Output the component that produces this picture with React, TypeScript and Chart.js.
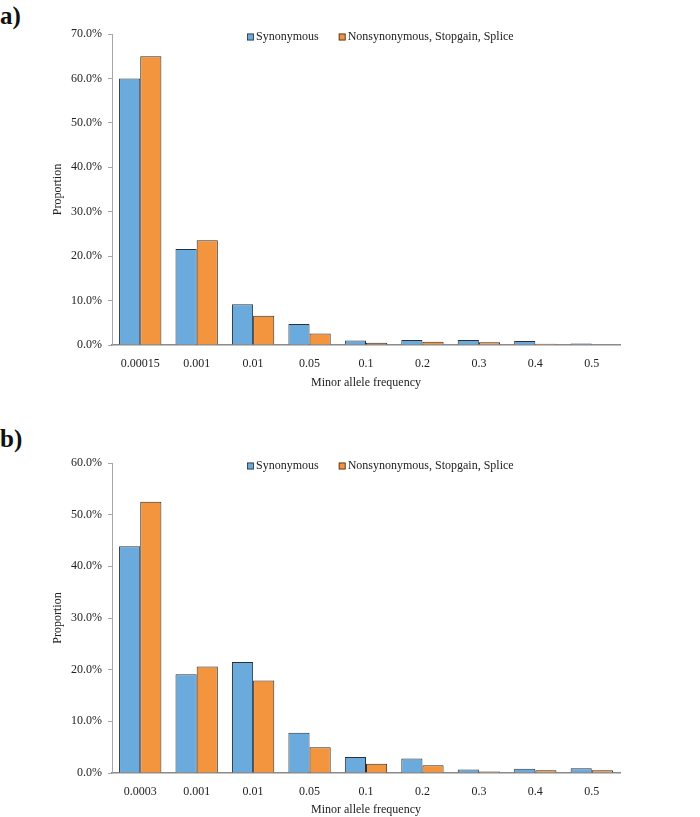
import React, { useEffect, useRef } from "react";
import { Chart, registerables } from "chart.js";

Chart.register(...registerables);

const seriesNames = ["Synonymous", "Nonsynonymous, Stopgain, Splice"];
const seriesColors = ["#6aaadc", "#f3943f"];

const labelsA = ["0.00015", "0.001", "0.01", "0.05", "0.1", "0.2", "0.3", "0.4", "0.5"];
const synonymousA = [60.0, 21.6, 9.2, 4.7, 1.0, 1.1, 1.1, 0.9, 0.35];
const nonsynonymousA = [65.0, 23.6, 6.6, 2.6, 0.5, 0.75, 0.6, 0.3, 0.1];
const yMaxA = 70;

const labelsB = ["0.0003", "0.001", "0.01", "0.05", "0.1", "0.2", "0.3", "0.4", "0.5"];
const synonymousB = [43.9, 19.1, 21.5, 7.8, 3.1, 2.8, 0.7, 0.8, 0.9];
const nonsynonymousB = [52.5, 20.6, 17.9, 5.0, 1.8, 1.5, 0.3, 0.55, 0.55];
const yMaxB = 60;

const FONT = "'Liberation Serif', 'DejaVu Serif', serif";

const innerLegend = {
  id: "innerLegend",
  afterDraw(chart: any) {
    const ctx = chart.ctx;
    const area = chart.chartArea;
    let x = area.left + 135;
    const y = area.top + 3;
    ctx.save();
    ctx.font = `12px ${FONT}`;
    ctx.textBaseline = "middle";
    ctx.textAlign = "left";
    chart.data.datasets.forEach((ds: any) => {
      ctx.fillStyle = ds.backgroundColor;
      ctx.fillRect(x, y - 3.5, 7, 7);
      ctx.strokeStyle = "#333";
      ctx.lineWidth = 0.8;
      ctx.strokeRect(x + 0.5, y - 3, 6, 6);
      ctx.fillStyle = "#222";
      ctx.fillText(ds.label, x + 9, y);
      x += 9 + ctx.measureText(ds.label).width + 20;
    });
    ctx.restore();
  },
};

type PanelProps = {
  top: number;
  height: number;
  padTop: number;
  xAxisH: number;
  xTitlePadBottom: number;
  labels: string[];
  syn: number[];
  non: number[];
  yMax: number;
  letter: string;
  letterTop: number;
};

function Panel(p: PanelProps) {
  const ref = useRef<HTMLCanvasElement>(null);
  useEffect(() => {
    if (!ref.current) return;
    const chart = new Chart(ref.current, {
      type: "bar",
      data: {
        labels: p.labels,
        datasets: [
          {
            label: seriesNames[0],
            data: p.syn,
            backgroundColor: seriesColors[0],
            borderColor: "#2a3038",
            borderWidth: 1,
          },
          {
            label: seriesNames[1],
            data: p.non,
            backgroundColor: seriesColors[1],
            borderColor: "#302a24",
            borderWidth: 1,
          },
        ],
      },
      options: {
        animation: false,
        responsive: false,
        maintainAspectRatio: false,
        layout: { padding: { top: p.padTop, left: 45, right: 80, bottom: 0 } },
        datasets: { bar: { categoryPercentage: 0.75, barPercentage: 1.0 } },
        plugins: { legend: { display: false }, tooltip: { enabled: false } },
        scales: {
          x: {
            grid: { display: false, drawTicks: false },
            border: { color: "#8a8a8a", width: 1.5 },
            ticks: { color: "#222", font: { family: FONT, size: 12 }, padding: 12, maxRotation: 0 },
            title: {
              display: true,
              text: "Minor allele frequency",
              color: "#222",
              font: { family: FONT, size: 12 },
              padding: { top: 0, bottom: p.xTitlePadBottom },
            },
            afterFit: (s: any) => {
              s.height = p.xAxisH;
            },
          },
          y: {
            min: 0,
            max: p.yMax,
            grid: { drawOnChartArea: false, drawTicks: true, tickLength: 4, color: "#a6a6a6" },
            border: { color: "#a6a6a6", width: 1 },
            ticks: {
              stepSize: 10,
              color: "#222",
              font: { family: FONT, size: 12 },
              padding: 6,
              callback: (v: any) => Number(v).toFixed(1) + "%",
            },
            title: {
              display: true,
              text: "Proportion",
              color: "#222",
              font: { family: FONT, size: 12 },
              padding: { top: 6, bottom: 0 },
            },
            afterFit: (s: any) => {
              s.width = 67;
            },
          },
        },
      },
      plugins: [innerLegend],
    });
    return () => chart.destroy();
  }, []);
  return (
    <>
      <div
        style={{
          position: "absolute",
          left: 0,
          top: p.letterTop,
          fontFamily: FONT,
          fontWeight: "bold",
          fontSize: 25,
          lineHeight: "26px",
          color: "#111",
        }}
      >
        {p.letter}
      </div>
      <canvas
        ref={ref}
        width={700}
        height={p.height}
        style={{ position: "absolute", left: 0, top: p.top, width: 700, height: p.height }}
      />
    </>
  );
}

export default function App() {
  return (
    <div style={{ position: "absolute", left: 0, top: 0, width: 700, height: 817, background: "#fff", overflow: "hidden" }}>
      <Panel
        top={0}
        height={400}
        padTop={34}
        xAxisH={55}
        xTitlePadBottom={10}
        labels={labelsA}
        syn={synonymousA}
        non={nonsynonymousA}
        yMax={yMaxA}
        letter="a)"
        letterTop={3}
      />
      <Panel
        top={420}
        height={397}
        padTop={43}
        xAxisH={44}
        xTitlePadBottom={0}
        labels={labelsB}
        syn={synonymousB}
        non={nonsynonymousB}
        yMax={yMaxB}
        letter="b)"
        letterTop={426}
      />
    </div>
  );
}
